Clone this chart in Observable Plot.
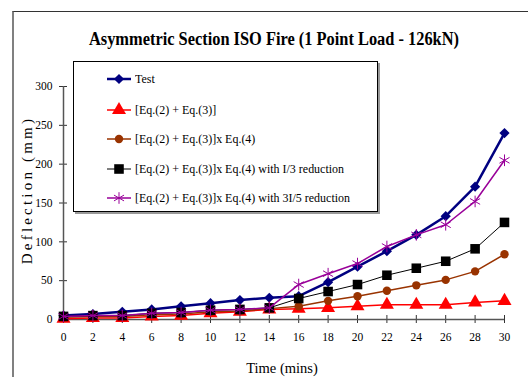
<!DOCTYPE html>
<html><head><meta charset="utf-8">
<script src="https://cdn.jsdelivr.net/npm/d3@7"></script>
<script src="https://cdn.jsdelivr.net/npm/@observablehq/plot@0.6"></script>
<style>
body{margin:0;background:#fff;}
#wrap{position:relative;width:528px;height:377px;overflow:hidden;font-family:"Liberation Serif",Tinos,"Times New Roman",Times,"DejaVu Serif",serif;background:#fff;}
#frame{position:absolute;left:12px;top:11px;width:530px;height:380px;border-left:2px solid #808080;border-top:1px solid #333;}
#chart{position:absolute;left:0;top:0;}
#title{position:absolute;left:274px;top:39px;transform:translate(-50%,-50%) scaleX(0.91);font-weight:bold;font-size:18px;color:#000;white-space:nowrap;}
#ylabel{position:absolute;left:27px;top:190px;transform:translate(-50%,-50%) rotate(-90deg);font-size:15px;letter-spacing:3.2px;white-space:nowrap;color:#000;}
#xlabel{position:absolute;left:282px;top:368px;transform:translate(-50%,-50%);font-size:14.5px;white-space:nowrap;color:#000;}
#legend{position:absolute;left:73px;top:61px;width:303px;height:149px;border:1px solid #000;background:#fff;box-shadow:2px 2px 0 #999;}
.li{position:absolute;left:32px;height:20px;display:flex;align-items:center;font-size:13px;white-space:nowrap;}
.li svg{margin-right:3px;}
.li span{display:inline-block;transform-origin:left center;transform:scaleX(0.92);}
#chart svg text{font-family:"Liberation Serif",Tinos,"Times New Roman",Times,"DejaVu Serif",serif;}
</style></head><body>
<div id="wrap">
 <div id="frame"></div>
 <div id="chart"></div>
 <div id="title">Asymmetric Section ISO Fire (1 Point Load - 126kN)</div>
 <div id="ylabel">Deflection (mm)</div>
 <div id="xlabel">Time (mins)</div>
 <div id="legend"></div>
</div>
<script>
const time = [0,2,4,6,8,10,12,14,16,18,20,22,24,26,28,30];
const test = [5,7,10,13,17,21,25,28,30,48,68,88,109,133,171,240];
const eq23 = [1,2,2,4,5,8,10,13,14,15,17,19,19,19,22,24];
const eq234 = [3,4,4,6,7,10,11,14,17,24,30,37,44,51,62,84];
const eq234i3 = [4,5,5,8,9,12,13,15,27,36,45,57,66,75,91,125];
const eq234i35 = [4,5,5,8,9,12,13,15,45,59,72,94,109,122,152,205];
const xTicks = [0,2,4,6,8,10,12,14,16,18,20,22,24,26,28,30];
const yTicks = [0,50,100,150,200,250,300];

const series = [
  {name:"Test", values:test, color:"#000080", symbol:"diamond2", r:4.6, lw:2.5, fill:true, sw:0},
  {name:"[Eq.(2) + Eq.(3)]", values:eq23, color:"#ff0000", symbol:"triangle", r:5.2, lw:1.5, fill:true, sw:0},
  {name:"[Eq.(2) + Eq.(3)]x Eq.(4)", values:eq234, color:"#993300", symbol:"circle", r:4.2, lw:1.5, fill:true, sw:0},
  {name:"[Eq.(2) + Eq.(3)]x Eq.(4) with I/3 reduction", values:eq234i3, color:"#000000", symbol:"square", r:5.4, lw:1, fill:true, sw:0},
  {name:"[Eq.(2) + Eq.(3)]x Eq.(4) with 3I/5 reduction", values:eq234i35, color:"#990099", symbol:"asterisk", r:5.5, lw:1.5, fill:false, sw:1}
];

const marks = [];
for (const s of series) {
  const data = time.map((t,i)=>({t, v:s.values[i]}));
  marks.push(Plot.line(data,{x:"t",y:"v",stroke:s.color,strokeWidth:s.lw}));
  marks.push(Plot.dot(data,{x:"t",y:"v",symbol:()=>s.symbol,r:s.r,
    fill: s.fill ? s.color : "none", stroke: s.fill ? "none" : s.color, strokeWidth: s.sw||1}));
}

const plot = Plot.plot({
  width:528, height:377,
  marginLeft:63, marginRight:24, marginTop:86, marginBottom:58,
  style:{fontFamily:"'Liberation Serif',Tinos,'Times New Roman',Times,'DejaVu Serif',serif", fontSize:"11px", background:"transparent", color:"#000"},
  x:{domain:[0,30]},
  y:{domain:[0,300]},
  symbol:{type:"identity"},
  marks:[
    Plot.axisX(xTicks,{tickSize:8, dy:-4, tickPadding:9, label:null, stroke:"#333", fontSize:11.5}),
    Plot.axisY(yTicks,{tickSize:8, dx:4, tickPadding:7, label:null, stroke:"#333", fontSize:11.5}),
    Plot.ruleY([0],{stroke:"#555", strokeWidth:1.5}),
    Plot.ruleX([0],{stroke:"#555", strokeWidth:1.5}),
    ...marks
  ]
});
document.getElementById("chart").appendChild(plot);

const leg = document.getElementById("legend");
const rowsY = [7, 38, 67, 97, 126];
const symMap = {diamond2:d3.symbolDiamond2, triangle:d3.symbolTriangle, circle:d3.symbolCircle, square:d3.symbolSquare, asterisk:d3.symbolAsterisk};
series.forEach((s,i)=>{
  const row = document.createElement("div");
  row.className = "li";
  row.style.top = rowsY[i]+"px";
  const svg = d3.create("svg").attr("width",26).attr("height",20);
  svg.append("line").attr("x1",1).attr("x2",25).attr("y1",10).attr("y2",10).attr("stroke",s.color).attr("stroke-width",s.lw);
  svg.append("path").attr("transform","translate(13,10)")
    .attr("d", d3.symbol(symMap[s.symbol], Math.PI*s.r*s.r)())
    .attr("fill", s.fill ? s.color : "none").attr("stroke", s.fill ? "none" : s.color);
  row.appendChild(svg.node());
  const sp = document.createElement("span");
  sp.textContent = s.name;
  row.appendChild(sp);
  leg.appendChild(row);
});
</script>
</body></html>
